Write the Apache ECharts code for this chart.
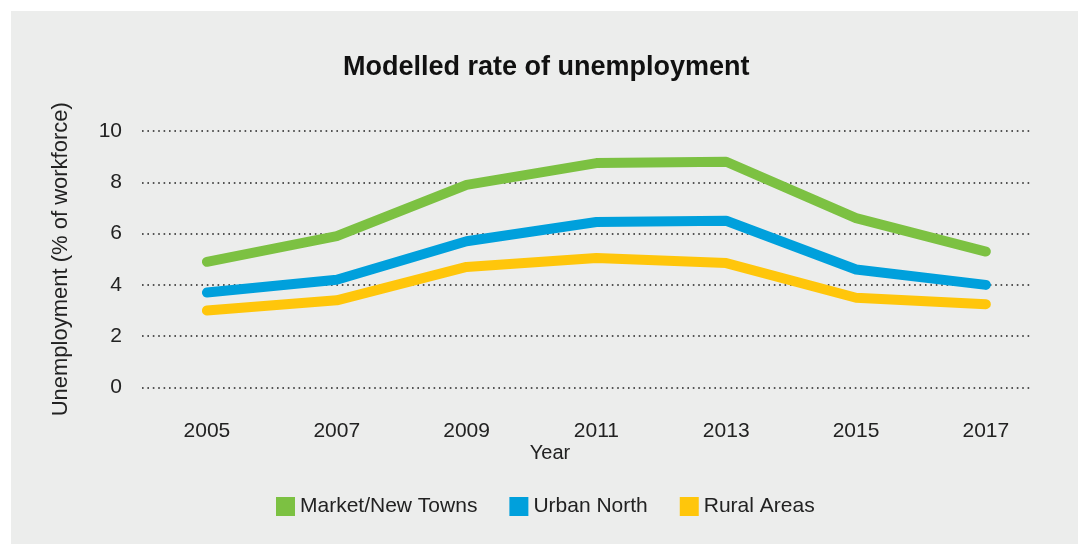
<!DOCTYPE html>
<html>
<head>
<meta charset="utf-8">
<script src="https://cdn.jsdelivr.net/npm/echarts@6/dist/echarts.min.js"></script>
<style>
  html, body { margin: 0; padding: 0; background: #fff; }
  #chart { width: 1078px; height: 544px; }
</style>
</head>
<body>
<div id="chart"></div>
<script>
// data
var years = [2005, 2007, 2009, 2011, 2013, 2015, 2017];
var marketNewTowns = [4.9, 5.9, 7.9, 8.75, 8.8, 6.6, 5.3];
var urbanNorth = [3.7, 4.2, 5.7, 6.45, 6.5, 4.6, 4.0];
var ruralAreas = [3.0, 3.4, 4.7, 5.05, 4.85, 3.5, 3.25];
var yTicks = [0, 2, 4, 6, 8, 10];

var font = 'Liberation Sans';

function pairs(vals) {
  return years.map(function (y, i) { return [y, vals[i]]; });
}

function lineSeries(name, color, vals) {
  return {
    name: name,
    type: 'line',
    data: pairs(vals),
    symbol: 'none',
    color: color,
    lineStyle: { width: 10, color: color, cap: 'round', join: 'round' }
  };
}

var chart = echarts.init(document.getElementById('chart'));

var option = {
  backgroundColor: '#ffffff',
  animation: false,
  graphic: [{
    type: 'rect',
    z: -10,
    shape: { x: 11, y: 11, width: 1067, height: 533 },
    style: { fill: '#ecedec' }
  }],
  title: {
    text: 'Modelled rate of unemployment',
    left: 338,
    top: 49,
    textStyle: { fontFamily: font, fontSize: 27, fontWeight: 'bold', color: '#111' }
  },
  legend: {
    left: 271,
    top: 491,
    icon: 'rect',
    itemWidth: 19,
    itemHeight: 19,
    itemGap: 32,
    textStyle: { fontFamily: font, fontSize: 21, color: '#222' },
    data: ['Market/New Towns', 'Urban North', 'Rural Areas']
  },
  grid: { left: 142, right: 48, top: 131, bottom: 156.5 },
  xAxis: {
    type: 'value',
    min: 2004,
    max: 2017.68,
    interval: 1,
    name: 'Year',
    nameLocation: 'middle',
    nameGap: 56,
    nameTextStyle: { fontFamily: font, fontSize: 20, color: '#222', padding: [0, 72, 0, 0] },
    axisLine: { show: false },
    axisTick: { show: false },
    splitLine: { show: false },
    axisLabel: {
      margin: 33,
      fontFamily: font,
      fontSize: 21,
      color: '#222',
      showMaxLabel: false,
      formatter: function (v) {
        return years.indexOf(v) >= 0 ? String(v) : '';
      }
    }
  },
  yAxis: {
    type: 'value',
    min: yTicks[0],
    max: yTicks[yTicks.length - 1],
    interval: 2,
    name: 'Unemployment (% of workforce)',
    nameLocation: 'middle',
    nameGap: 70,
    nameTextStyle: { fontFamily: font, fontSize: 22, color: '#222' },
    axisLine: { show: false },
    axisTick: { show: false },
    axisLabel: { margin: 20, fontFamily: font, fontSize: 21, color: '#222' },
    splitLine: {
      show: true,
      lineStyle: { color: '#222', width: 1.6, type: [1.6, 3.8] }
    }
  },
  series: [
    lineSeries('Market/New Towns', '#7cc142', marketNewTowns),
    lineSeries('Urban North', '#00a0dc', urbanNorth),
    lineSeries('Rural Areas', '#ffc60b', ruralAreas)
  ]
};

chart.setOption(option);
</script>
</body>
</html>
